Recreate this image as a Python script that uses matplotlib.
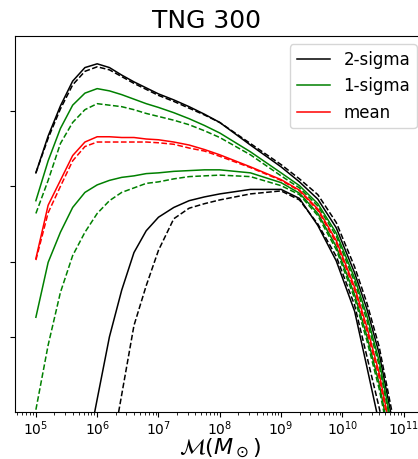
import numpy as np
import matplotlib
matplotlib.use("Agg")
import matplotlib.pyplot as plt

nan = np.nan

# log10 of mass grid
logm = [5.0, 5.2, 5.4, 5.6, 5.8, 6.0, 6.2, 6.4, 6.6, 6.8, 7.0, 7.25, 7.5, 7.75,
        8.0, 8.5, 9.0, 9.3, 9.6, 9.9, 10.2, 10.4, 10.6, 10.8, 11.0]

# solid lines
hi2_solid = [3.18, 3.67, 4.07, 4.40, 4.58, 4.63, 4.58, 4.48, 4.39, 4.31, 4.23, 4.15, 4.06, 3.96,
             3.85, 3.55, 3.26, 3.06, 2.83, 2.45, 1.85, 1.37, 0.78, -0.05, nan]
hi1_solid = [2.81, 3.34, 3.77, 4.08, 4.24, 4.30, 4.27, 4.22, 4.16, 4.10, 4.05, 3.98, 3.90, 3.81,
             3.71, 3.46, 3.18, 3.01, 2.77, 2.38, 1.78, 1.28, 0.68, -0.15, nan]
mean_solid = [2.04, 2.75, 3.08, 3.41, 3.59, 3.66, 3.66, 3.65, 3.65, 3.63, 3.62, 3.59, 3.55, 3.49,
              3.42, 3.26, 3.09, 2.95, 2.70, 2.28, 1.66, 1.13, 0.52, -0.30, nan]
lo1_solid = [1.26, 1.99, 2.39, 2.72, 2.92, 3.02, 3.08, 3.12, 3.14, 3.17, 3.18, 3.20, 3.21, 3.22,
             3.22, 3.18, 3.05, 2.91, 2.64, 2.20, 1.56, 1.01, 0.38, -0.45, nan]
lo2_solid = [nan, nan, nan, nan, -0.67, 0.17, 1.00, 1.62, 2.12, 2.41, 2.59, 2.72, 2.81, 2.86,
             2.90, 2.96, 2.96, 2.84, 2.48, 2.01, 1.34, 0.60, -0.15, nan, nan]

# dashed lines
hi2_dash = [3.18, 3.64, 4.03, 4.35, 4.53, 4.59, 4.55, 4.46, 4.37, 4.29, 4.21, 4.13, 4.04, 3.95,
            3.85, 3.57, 3.29, 3.10, 2.89, 2.52, 1.93, 1.45, 0.87, 0.04, -0.60]
hi1_dash = [2.64, 3.08, 3.57, 3.85, 4.02, 4.10, 4.08, 4.06, 4.02, 3.97, 3.93, 3.88, 3.82, 3.74,
            3.65, 3.42, 3.14, 2.98, 2.74, 2.34, 1.73, 1.22, 0.62, -0.20, nan]
mean_dash = [2.02, 2.65, 3.00, 3.34, 3.53, 3.59, 3.59, 3.59, 3.59, 3.59, 3.58, 3.56, 3.51, 3.47,
             3.40, 3.25, 3.08, 2.94, 2.68, 2.25, 1.62, 1.08, 0.46, -0.35, nan]
lo1_dash = [0.03, 0.89, 1.59, 2.08, 2.39, 2.64, 2.81, 2.92, 2.98, 3.04, 3.06, 3.10, 3.13, 3.14,
            3.15, 3.13, 3.01, 2.89, 2.61, 2.16, 1.51, 0.95, 0.31, -0.50, nan]
lo2_dash = [nan, nan, nan, nan, nan, nan, -0.69, 0.23, 1.15, 1.68, 2.15, 2.57, 2.71, 2.77,
            2.82, 2.90, 2.94, 2.82, 2.50, 2.07, 1.42, 0.74, 0.06, -0.70, nan]

xtick_pos = [1e5, 1e6, 1e7, 1e8, 1e9, 1e10, 1e11]

m = 10 ** np.array(logm)

fig = plt.figure(figsize=(4.18, 4.59), dpi=100)
# axes runs a little past the right edge (the reference is cropped there)
ax = fig.add_axes([0.036, 0.1024, 0.981, 0.8192])

lw = 1.1
ax.plot(m, hi2_solid, color='k', lw=lw, label='2-sigma')
ax.plot(m, hi1_solid, color='g', lw=lw, label='1-sigma')
ax.plot(m, mean_solid, color='r', lw=lw, label='mean')
ax.plot(m, lo1_solid, color='g', lw=lw)
ax.plot(m, lo2_solid, color='k', lw=lw)

ax.plot(m, hi2_dash, color='k', lw=lw, ls='--')
ax.plot(m, hi1_dash, color='g', lw=lw, ls='--')
ax.plot(m, mean_dash, color='r', lw=lw, ls='--')
ax.plot(m, lo1_dash, color='g', lw=lw, ls='--')
ax.plot(m, lo2_dash, color='k', lw=lw, ls='--')

ax.set_xscale('log')
ax.set_xticks(xtick_pos)
ax.set_xlim(10 ** 4.66, 10 ** 11.35)
ax.set_ylim(0, 5)
ax.set_yticks([1, 2, 3, 4])
ax.set_yticklabels([])
ax.tick_params(axis='x', labelsize=10, pad=2)

ax.set_title('TNG 300', fontsize=18, x=0.468)
ax.set_xlabel(r'$\mathcal{M}(M_\odot)$', fontsize=16, labelpad=-1)
ax.legend(loc='upper right', fontsize=12)

fig.savefig('out.png', dpi=100)
